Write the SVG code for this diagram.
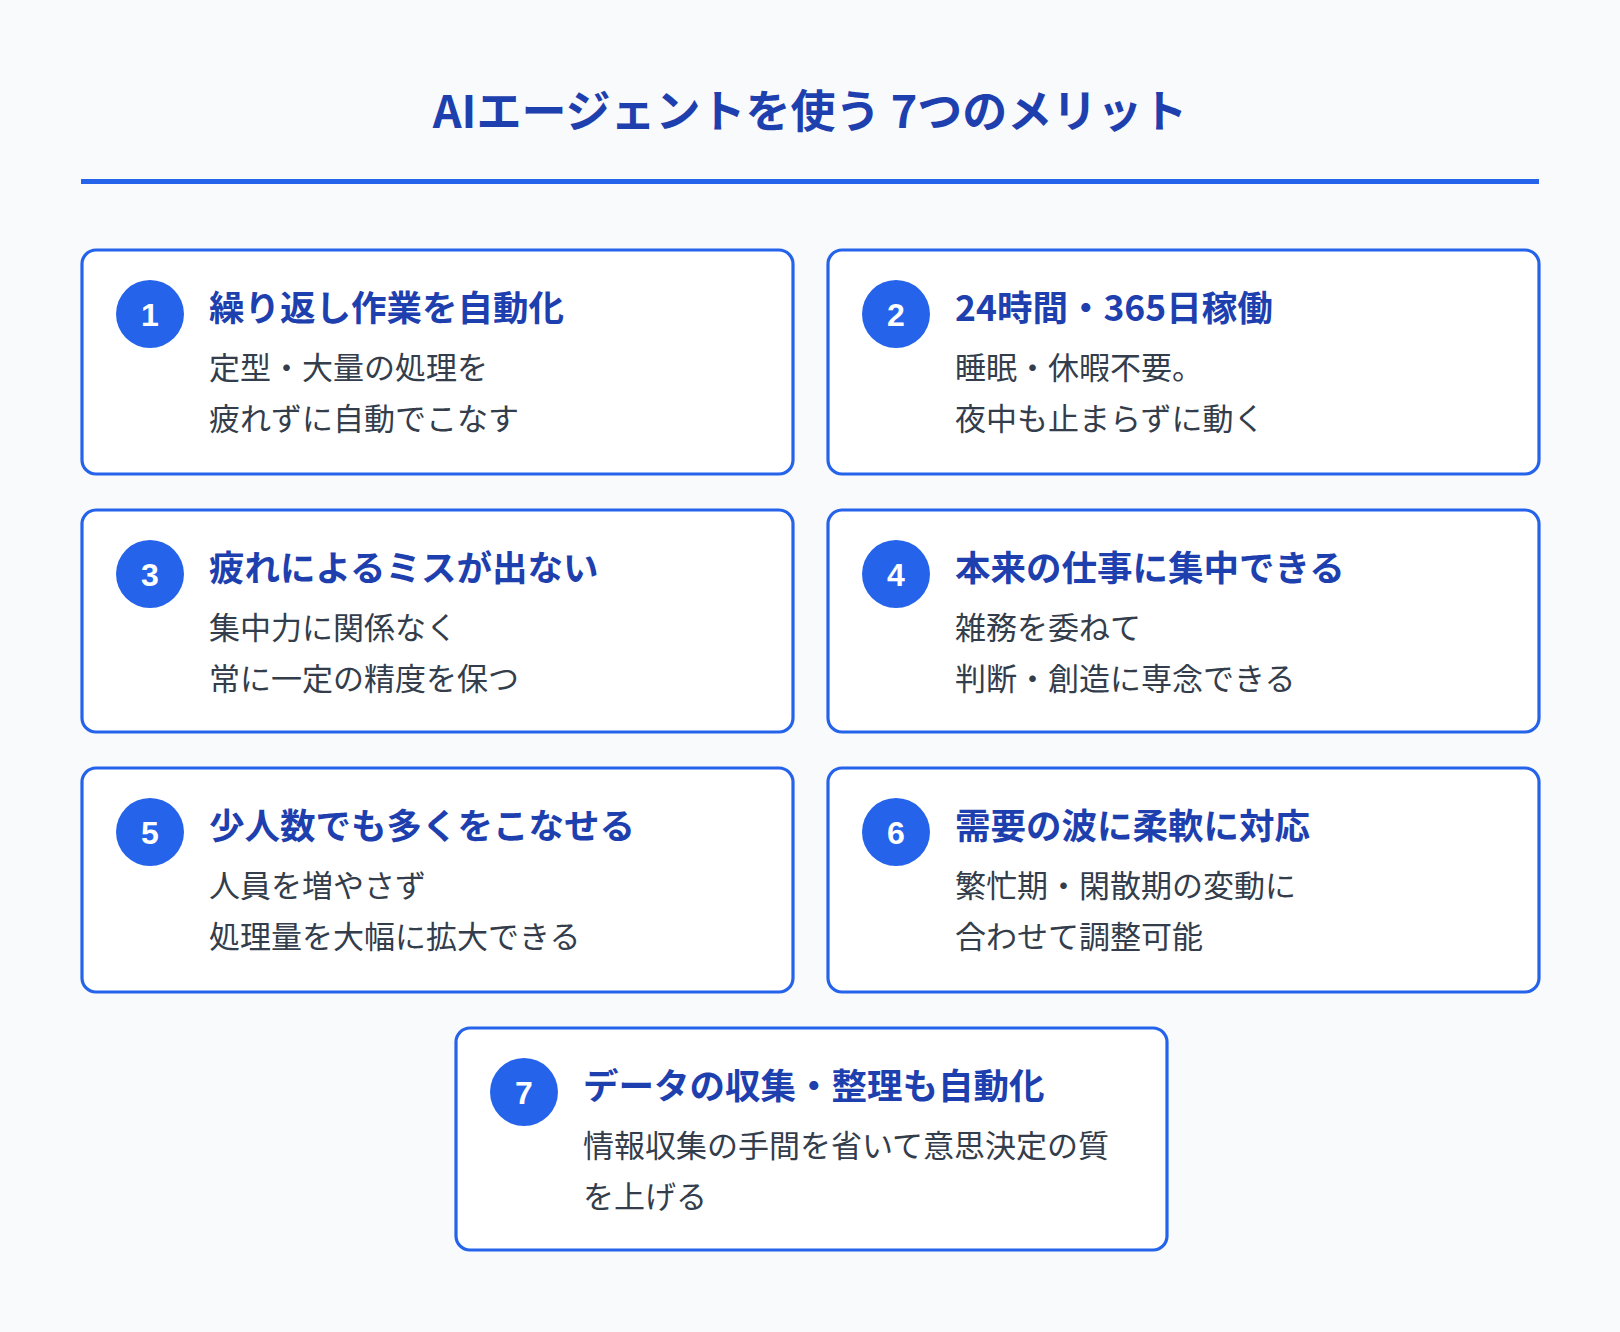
<svg xmlns="http://www.w3.org/2000/svg" width="1620" height="1332" viewBox="0 0 1620 1332">
<style>
.card{fill:#fff;stroke:#2563eb;stroke-width:3.2}
.num{fill:#2563eb}
.n{font-family:"Liberation Sans",Arial,sans-serif;font-weight:bold;font-size:32px;fill:#fff;text-anchor:middle}
.t{font-family:"Noto Sans CJK JP","Noto Sans",sans-serif;font-weight:bold;font-size:35.5px;fill:#1e40af}
.b{font-family:"Noto Sans CJK JP","Noto Sans",sans-serif;font-size:31px;fill:#333d4b}
</style>
<rect width="1620" height="1332" fill="#f8fafc"/>
<text x="810" y="128" text-anchor="middle" font-family="Noto Sans CJK JP, Noto Sans, sans-serif" font-weight="bold" font-size="45" fill="#1e40af">AIエージェントを使う 7つのメリット</text>
<rect x="81" y="179" width="1458" height="5" fill="#2563eb"/>
<g id="card1" transform="translate(82,250)"><rect class="card" width="711" height="224" rx="14"/><circle class="num" cx="68" cy="64" r="34"/><text class="n" x="68" y="76">1</text><text class="t" x="127" y="71">繰り返し作業を自動化</text><text class="b" x="127" y="129">定型・大量の処理を</text><text class="b" x="127" y="180">疲れずに自動でこなす</text></g>
<g id="card2" transform="translate(828,250)"><rect class="card" width="711" height="224" rx="14"/><circle class="num" cx="68" cy="64" r="34"/><text class="n" x="68" y="76">2</text><text class="t" x="127" y="71">24時間・365日稼働</text><text class="b" x="127" y="129">睡眠・休暇不要。</text><text class="b" x="127" y="180">夜中も止まらずに動く</text></g>
<g id="card3" transform="translate(82,510)"><rect class="card" width="711" height="222" rx="14"/><circle class="num" cx="68" cy="64" r="34"/><text class="n" x="68" y="76">3</text><text class="t" x="127" y="71">疲れによるミスが出ない</text><text class="b" x="127" y="129">集中力に関係なく</text><text class="b" x="127" y="180">常に一定の精度を保つ</text></g>
<g id="card4" transform="translate(828,510)"><rect class="card" width="711" height="222" rx="14"/><circle class="num" cx="68" cy="64" r="34"/><text class="n" x="68" y="76">4</text><text class="t" x="127" y="71">本来の仕事に集中できる</text><text class="b" x="127" y="129">雑務を委ねて</text><text class="b" x="127" y="180">判断・創造に専念できる</text></g>
<g id="card5" transform="translate(82,768)"><rect class="card" width="711" height="224" rx="14"/><circle class="num" cx="68" cy="64" r="34"/><text class="n" x="68" y="76">5</text><text class="t" x="127" y="71">少人数でも多くをこなせる</text><text class="b" x="127" y="129">人員を増やさず</text><text class="b" x="127" y="180">処理量を大幅に拡大できる</text></g>
<g id="card6" transform="translate(828,768)"><rect class="card" width="711" height="224" rx="14"/><circle class="num" cx="68" cy="64" r="34"/><text class="n" x="68" y="76">6</text><text class="t" x="127" y="71">需要の波に柔軟に対応</text><text class="b" x="127" y="129">繁忙期・閑散期の変動に</text><text class="b" x="127" y="180">合わせて調整可能</text></g>
<g id="card7" transform="translate(456,1028)"><rect class="card" width="711" height="222" rx="14"/><circle class="num" cx="68" cy="64" r="34"/><text class="n" x="68" y="76">7</text><text class="t" x="127" y="71">データの収集・整理も自動化</text><text class="b" x="127" y="129">情報収集の手間を省いて意思決定の質</text><text class="b" x="127" y="180">を上げる</text></g>
<g id="connectors"/>
</svg>
